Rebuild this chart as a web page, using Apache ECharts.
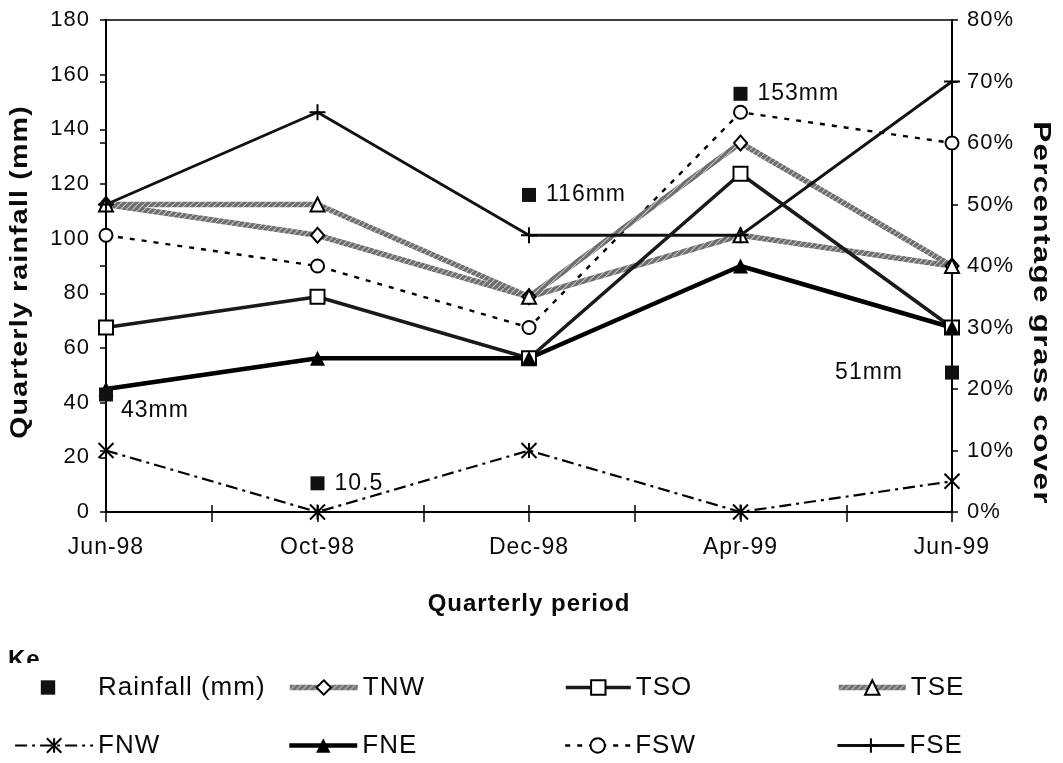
<!DOCTYPE html>
<html>
<head>
<meta charset="utf-8">
<script src="https://cdn.jsdelivr.net/npm/echarts@6/dist/echarts.min.js"></script>
<style>
  html, body { margin: 0; padding: 0; background: #fff; }
  #chart { width: 1063px; height: 763px; }
</style>
</head>
<body>
<div id="chart"></div>
<script>
// Slightly wider letter tracking for every piece of canvas text.
(function () {
  const proto = CanvasRenderingContext2D.prototype;
  const d = Object.getOwnPropertyDescriptor(proto, 'font');
  if (d && 'letterSpacing' in proto) {
    Object.defineProperty(proto, 'font', {
      configurable: true,
      enumerable: d.enumerable,
      get() { return d.get.call(this); },
      set(v) { d.set.call(this, v); this.letterSpacing = '1px'; }
    });
  }
})();

// ---- data ----
const categories = ['Jun-98', 'Oct-98', 'Dec-98', 'Apr-99', 'Jun-99'];
const rainfall = [43, 10.5, 116, 153, 51];          // mm, left axis
const rainUnits = ['mm', '', 'mm', 'mm', 'mm'];
// percentage grass cover, right axis
const tnw = [50, 45, 35, 60, 40];
const tso = [30, 35, 25, 55, 30];
const tse = [50, 50, 35, 45, 40];
const fnw = [10, 0, 10, 0, 5];
const fne = [20, 25, 25, 40, 30];
const fsw = [45, 40, 30, 65, 60];
const fse = [50, 65, 45, 45, 70];

const FONT = '"Liberation Sans", Arial, sans-serif';
const INK = '#0a0a0a';

// grey rope-like hatch used for the TNW / TSE lines
function hatch() {
  const c = document.createElement('canvas');
  c.width = 6; c.height = 6;
  const g = c.getContext('2d');
  g.fillStyle = '#6e6e6e';
  g.fillRect(0, 0, 6, 6);
  g.strokeStyle = '#c4c4c4';
  g.lineWidth = 1.2;
  g.beginPath();
  g.moveTo(-1, 7); g.lineTo(7, -1);
  g.stroke();
  return c;
}
const greyRope = { image: hatch(), repeat: 'repeat' };

const toPts = arr => arr.map((v, i) => [i, v]);
const openMark = { color: '#fff', borderColor: '#000', borderWidth: 2 };

function pct(name, data, symbol, symbolSize, itemStyle, lineStyle, z) {
  return {
    type: 'line', name, data: toPts(data), xAxisIndex: 0, yAxisIndex: 1,
    symbol, symbolSize, itemStyle, lineStyle, z, showAllSymbol: true,
    emphasis: { disabled: true }, silent: true, animation: false
  };
}

const series = [
  pct('FSW', fsw, 'circle', 13, openMark, { color: '#000', width: 2.4, type: [5, 7] }, 2),
  pct('FNW', fnw, 'path://M0,0L10,10M10,0L0,10M5,0L5,10', 15,
      { color: 'transparent', borderColor: '#000', borderWidth: 2 },
      { color: '#000', width: 2.2, type: [12, 5, 3, 5] }, 2),
  pct('TNW', tnw, 'diamond', [13, 15], openMark, { color: greyRope, width: 5.5 }, 3),
  pct('TSE', tse, 'triangle', 14, openMark, { color: greyRope, width: 5.5 }, 3),
  pct('FSE', fse, 'path://M0,5L10,5M5,0L5,10', 16,
      { color: 'transparent', borderColor: '#000', borderWidth: 2 },
      { color: '#111', width: 2.8 }, 4),
  pct('TSO', tso, 'rect', 14, openMark, { color: '#1a1a1a', width: 3.6 }, 4),
  pct('FNE', fne, 'triangle', 15, { color: '#000' }, { color: '#000', width: 4.5 }, 4),
  {
    type: 'line', name: 'Rainfall (mm)',
    // 51mm sits to the left of its marker
    data: rainfall.map((v, i) => i === 4
      ? { value: [i, v], label: { position: 'left', distance: 42 } }
      : [i, v]),
    xAxisIndex: 0, yAxisIndex: 0, symbol: 'rect', symbolSize: 14,
    itemStyle: { color: '#111' }, lineStyle: { opacity: 0 }, z: 6,
    emphasis: { disabled: true }, silent: true, animation: false,
    label: {
      show: true, position: 'right', distance: 10,
      fontFamily: FONT, fontSize: 23, color: INK,
      formatter: p => p.value[1] + rainUnits[p.dataIndex]
    },
    labelLayout: p => (p.dataIndex === 0 ? { dx: -2, dy: 16 } : {})
  }
];

// legend: one component per entry so the 4 x 2 key lines up in columns
const legendCells = [
  { name: 'Rainfall (mm)', left: 2,   top: 674, w: 90 },
  { name: 'TNW',           left: 287, top: 674, w: 68 },
  { name: 'TSO',           left: 564, top: 674, w: 65 },
  { name: 'TSE',           left: 836, top: 674, w: 67 },
  { name: 'FNW',           left: 14,  top: 732, w: 78 },
  { name: 'FNE',           left: 287, top: 732, w: 68 },
  { name: 'FSW',           left: 564, top: 732, w: 65 },
  { name: 'FSE',           left: 836, top: 732, w: 67 }
];
const legend = legendCells.map(c => ({
  data: [c.name], left: c.left, top: c.top, itemWidth: c.w, itemHeight: 18,
  padding: 0, selectedMode: false,
  lineStyle: { width: 'inherit' },
  itemStyle: { borderWidth: 'inherit' },
  textStyle: { fontFamily: FONT, fontSize: 26, color: INK }
}));

const gridBox = { left: 106, right: 111, top: 20, bottom: 251 };
const tickLine = { color: '#000', width: 1.5 };

const option = {
  backgroundColor: '#fff',
  animation: false,
  legend,
  grid: [
    Object.assign({ show: true, borderColor: '#000', borderWidth: 1.5, backgroundColor: 'transparent' }, gridBox),
    Object.assign({}, gridBox)
  ],
  xAxis: [
    {
      gridIndex: 0, type: 'value', min: 0, max: 4, interval: 0.5, position: 'bottom',
      axisLine: { lineStyle: { color: '#000', width: 2 } },
      axisTick: { length: 10, lineStyle: tickLine },
      splitLine: { show: false },
      axisLabel: {
        margin: 24, fontFamily: FONT, fontSize: 23, color: INK,
        formatter: v => Number.isInteger(v) ? categories[v] : ''
      },
      name: 'Quarterly period', nameLocation: 'middle', nameGap: 80,
      nameTextStyle: { fontFamily: FONT, fontSize: 24, fontWeight: 'bold', color: INK }
    },
    {
      gridIndex: 1, type: 'value', min: 0, max: 4, interval: 0.5, position: 'bottom',
      axisLine: { show: false },
      axisTick: { inside: true, length: 7, lineStyle: tickLine },
      axisLabel: { show: false }, splitLine: { show: false }
    }
  ],
  yAxis: [
    {
      gridIndex: 0, type: 'value', position: 'left', min: 0, max: 180, interval: 20,
      axisLine: { show: true, lineStyle: { color: '#000', width: 2 } },
      axisTick: { show: true, length: 6, lineStyle: tickLine },
      splitLine: { show: false },
      axisLabel: { margin: 16, fontFamily: FONT, fontSize: 22, color: INK }
    },
    {
      gridIndex: 0, type: 'value', position: 'right', min: 0, max: 80, interval: 10,
      axisLine: { show: true, lineStyle: { color: '#000', width: 2 } },
      axisTick: { show: true, length: 6, lineStyle: tickLine },
      splitLine: { show: false },
      axisLabel: { margin: 15, fontFamily: FONT, fontSize: 22, color: INK, formatter: '{value}%' }
    },
    {
      gridIndex: 1, type: 'value', position: 'right', min: 0, max: 80, interval: 10,
      axisLine: { show: false },
      axisTick: { show: true, inside: true, length: 6, lineStyle: tickLine },
      axisLabel: { show: false }, splitLine: { show: false }
    }
  ],
  graphic: [
    {
      type: 'text', x: 20, y: 272, rotation: Math.PI / 2, scaleX: 1.19,
      style: { text: 'Quarterly rainfall (mm)', font: 'bold 24px ' + FONT, fill: INK,
               textAlign: 'center', textVerticalAlign: 'middle' }
    },
    {
      type: 'text', x: 1041, y: 313, rotation: -Math.PI / 2, scaleX: 1.31,
      style: { text: 'Percentage grass cover', font: 'bold 24px ' + FONT, fill: INK,
               textAlign: 'center', textVerticalAlign: 'middle' }
    },
    {
      type: 'text', left: 8, top: 648,
      style: { text: 'Ke', font: 'bold 24px ' + FONT, fill: INK }
    },
    {
      type: 'rect', left: 0, top: 663, z: 100,
      shape: { width: 60, height: 10 }, style: { fill: '#fff' }
    }
  ],
  series
};

const chart = echarts.init(document.getElementById('chart'), null, { renderer: 'canvas' });
chart.setOption(option);
</script>
</body>
</html>
